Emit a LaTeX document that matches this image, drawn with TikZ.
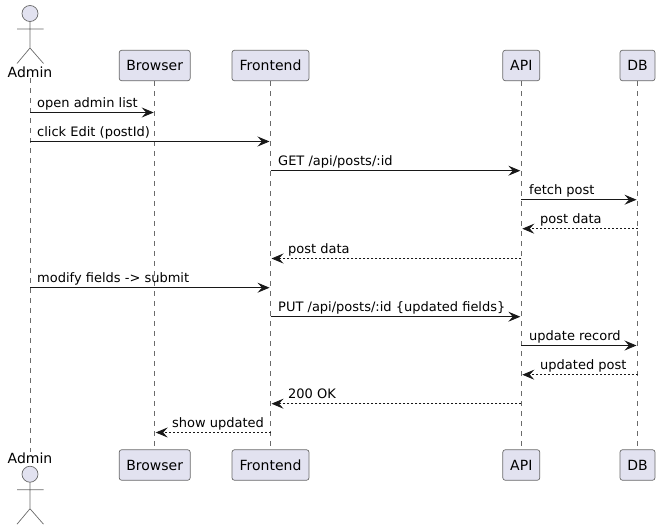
\documentclass[tikz,border=0pt]{standalone}
\usepackage{fontspec}
\setmainfont{DejaVu Sans}
\usetikzlibrary{
  arrows.meta
}
\definecolor{PartFill}{HTML}{E2E2F0}
\definecolor{PartLine}{HTML}{6A6A6A}
\definecolor{MsgLine}{HTML}{181818}
\tikzset{
  part/.style={draw=PartLine, fill=PartFill, rounded corners=2.5pt, line width=0.7pt,
    minimum height=30.5pt, inner sep=0pt, font=\fontsize{14}{16}\selectfont, text=black},
  actorname/.style={inner sep=0pt, font=\fontsize{14}{16}\selectfont, text=black},
  actorline/.style={draw=PartLine, line width=0.7pt},
  life/.style={draw=PartLine, line width=0.6pt, dash pattern=on 5pt off 5pt},
  msg/.style={draw=MsgLine, line width=0.8pt, shorten >=1pt,
    -{Stealth[length=12pt,width=10pt,inset=4.5pt]}},
  ret/.style={msg, dash pattern=on 2pt off 2pt},
  msgtext/.style={anchor=base west, inner sep=0pt, font=\fontsize{13}{15}\selectfont, text=black},
}
\begin{document}
\begin{tikzpicture}[x=1pt, y=-1pt]
      \useasboundingbox (0,0) rectangle (660,530);

      \node [actorname] (AdminT) at (30, 72.7){Admin};
      \node [actorname] (AdminB) at (30, 458){Admin};

      \foreach \nm/\xx/\boxw in {Browser/154.7/71, Frontend/270.5/77, API/521.3/37, DB/637.5/35} {
        \node [part, minimum width=\boxw pt] (\nm T) at (\xx, 65.5){\nm};
        \node [part, minimum width=\boxw pt] (\nm B) at (\xx, 465){\nm};
        \draw[life] (\nm T.south) -- (\nm B.north);
      }
      \draw[life] (AdminT.south) -- (AdminB.north);

      \foreach \yy in {13.5, 474.2} {
        \draw[actorline, fill=PartFill] (30, \yy) circle (8pt);
        \draw[actorline] (30, \yy+8) -- (30, \yy+34.5)
          (17, \yy+15.5) -- (43.5, \yy+15.5)
          (17, \yy+50) -- (30, \yy+34.5) -- (43.5, \yy+50);
      }

      \foreach \src/\dst/\yy/\xx/\stl/\txt in {
        AdminT/BrowserT/112.5/37/msg/{open admin list},
        AdminT/FrontendT/141.5/37/msg/{click Edit (postId)},
        FrontendT/APIT/170.7/278/msg/{GET /api/posts/:id},
        APIT/DBT/199.7/529/msg/{fetch post},
        DBT/APIT/228.7/540/ret/{post data},
        APIT/FrontendT/258.5/288/ret/{post data},
        AdminT/FrontendT/287.7/37/msg/{modify fields -> submit},
        FrontendT/APIT/316.7/278/msg/{PUT /api/posts/:id \{updated fields\}},
        APIT/DBT/345.5/529/msg/{update record},
        DBT/APIT/374.7/540/ret/{updated post},
        APIT/FrontendT/403.7/288/ret/{200 OK},
        FrontendT/BrowserT/432.5/172/ret/{show updated}%
      } {
        \draw[\stl] (\src |- 0,\yy) -- (\dst |- 0,\yy);
        \node [msgtext] at (\xx, \yy-5){\txt};
      }
    \end{tikzpicture}
\end{document}
